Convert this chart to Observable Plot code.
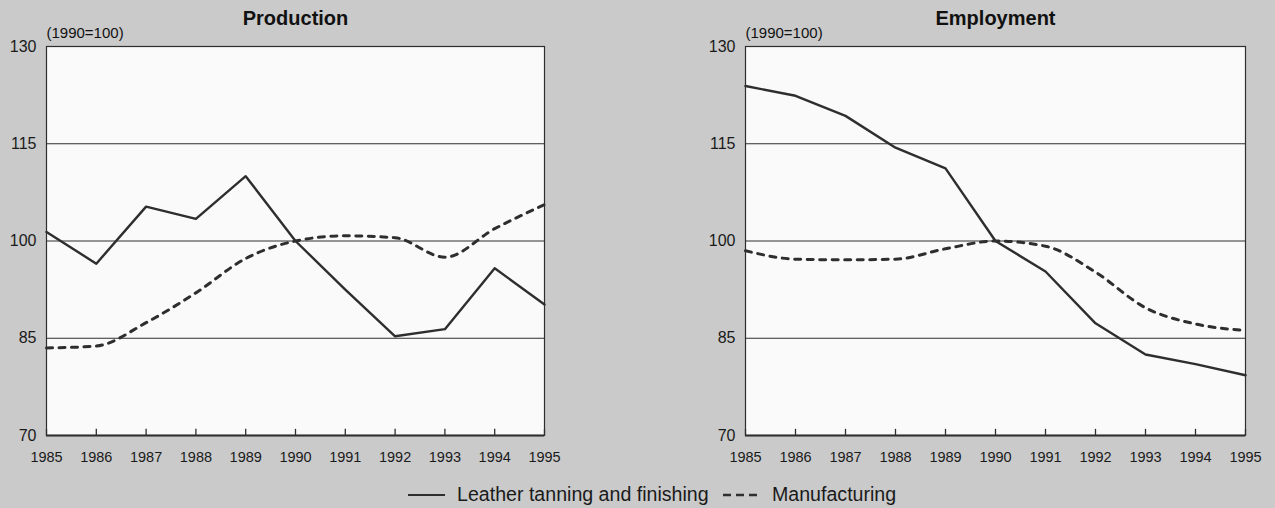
<!DOCTYPE html>
<html>
<head>
<meta charset="utf-8">
<script src="https://cdn.jsdelivr.net/npm/d3@7"></script>
<script src="https://cdn.jsdelivr.net/npm/@observablehq/plot@0.6"></script>
<style>
  html, body { margin: 0; padding: 0; background: #cacaca; }
  #wrap { position: relative; width: 1275px; height: 508px; overflow: hidden; background: #cacaca; font-family: "Liberation Sans", Arial, sans-serif; }
  .panel { position: absolute; top: 0; }
  #legend { position: absolute; top: 481px; left: 0; width: 1275px; height: 27px; }
  #legend .item { position: absolute; top: 0; font-size: 19.6px; color: #1a1a1a; line-height: 27px; white-space: nowrap; }
  #legend svg { position: absolute; top: 0; }
</style>
</head>
<body>
<div id="wrap">
  <div id="left" class="panel" style="left:0px"></div>
  <div id="right" class="panel" style="left:700px"></div>
  <div id="legend"></div>
</div>
<script>
const years = [1985, 1986, 1987, 1988, 1989, 1990, 1991, 1992, 1993, 1994, 1995];
const yTicks = [70, 85, 100, 115, 130];
const gridValues = [85, 100, 115];
const prodLeather = [101.4, 96.5, 105.3, 103.4, 110.0, 100.0, 92.5, 85.3, 86.4, 95.8, 90.2];
const prodManuf   = [83.5, 83.8, 87.4, 92.0, 97.3, 100.0, 100.8, 100.5, 97.5, 101.9, 105.6];
const empLeather  = [123.9, 122.4, 119.3, 114.4, 111.2, 100.0, 95.3, 87.3, 82.5, 81.0, 79.3];
const empManuf    = [98.5, 97.2, 97.1, 97.2, 98.8, 100.0, 99.2, 95.2, 89.7, 87.2, 86.2];
const titles = ["Production", "Employment"];
const baseLabel = "(1990=100)";
const seriesNames = ["Leather tanning and finishing", "Manufacturing"];

const ink = "#2e2e2e";

function panel(title, leather, manuf, opts) {
  const lData = years.map((y, i) => ({year: y, value: leather[i]}));
  const mData = years.map((y, i) => ({year: y, value: manuf[i]}));
  return Plot.plot({
    width: opts.width,
    height: 470,
    marginLeft: opts.marginLeft,
    marginRight: opts.marginRight,
    marginTop: 46,
    marginBottom: 35,
    style: {background: "transparent", fontFamily: "'Liberation Sans', Arial, sans-serif", color: "#1a1a1a", overflow: "visible"},
    x: {domain: [1985, 1995], ticks: years, tickFormat: d => String(d)},
    y: {domain: [70, 130], ticks: yTicks},
    marks: [
      Plot.frame({fill: "#fafafa", stroke: "none"}),
      Plot.ruleY(gridValues, {stroke: ink, strokeWidth: 1.1}),
      Plot.ruleX(years, {x: d => d, y1: 70, y2: 70.95, stroke: ink, strokeWidth: 1.3}),
      Plot.frame({stroke: ink, strokeWidth: 1.2}),
      Plot.ruleY([70], {stroke: ink, strokeWidth: 2.2}),
      Plot.axisX({ticks: years, tickFormat: d => String(d), tickSize: 0, tickPadding: 16, fontSize: 14.5, label: null}),
      Plot.axisY({ticks: yTicks, tickSize: 0, tickPadding: 10, fontSize: 16, label: null}),
      Plot.line(mData, {x: "year", y: "value", stroke: ink, strokeWidth: 3, strokeDasharray: "6,6.5", curve: "monotone-x"}),
      Plot.line(lData, {x: "year", y: "value", stroke: ink, strokeWidth: 2.4, curve: opts.curve}),
      Plot.text([title], {frameAnchor: "top", dy: -36, fontSize: 20, fontWeight: "bold", fill: "#111"}),
      Plot.text([baseLabel], {frameAnchor: "top-left", dy: -19, textAnchor: "start", fontSize: 15, fill: "#111"})
    ]
  });
}

document.getElementById("left").appendChild(
  panel(titles[0], prodLeather, prodManuf, {width: 600, marginLeft: 46, marginRight: 56, curve: "linear"})
);
document.getElementById("right").appendChild(
  panel(titles[1], empLeather, empManuf, {width: 575, marginLeft: 45, marginRight: 30, curve: "linear"})
);

// Legend
const legend = d3.select("#legend");
function swatch(x, dashed) {
  const s = legend.append("svg").attr("width", 44).attr("height", 27).style("left", x + "px");
  s.append("line").attr("x1", 0).attr("x2", dashed ? 38 : 37).attr("y1", 14).attr("y2", 14)
    .attr("stroke", ink).attr("stroke-width", dashed ? 2.6 : 2.2)
    .attr("stroke-dasharray", dashed ? "8,5" : null);
}
swatch(408, false);
legend.append("div").attr("class", "item").style("left", "457px").text(seriesNames[0]);
swatch(723, true);
legend.append("div").attr("class", "item").style("left", "772px").text(seriesNames[1]);
</script>
</body>
</html>
